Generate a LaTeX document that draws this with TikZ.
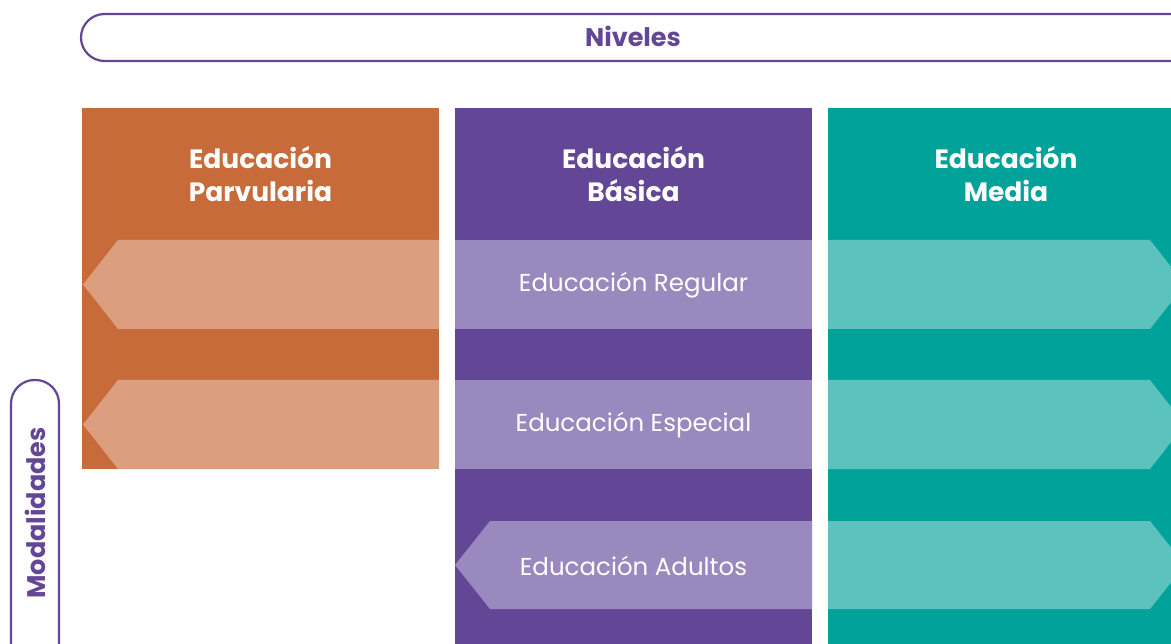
\documentclass[tikz,border=0pt]{standalone}
\usepackage{fontspec}
\setmainfont{Poppins}
\definecolor{vio}{HTML}{634796}
\definecolor{vioL}{HTML}{9A89BE}
\definecolor{ora}{HTML}{C76B3A}
\definecolor{oraL}{HTML}{DB9E7E}
\definecolor{tea}{HTML}{00A29A}
\definecolor{teaL}{HTML}{5BC2BE}
\tikzset{
  head/.style={text=white, font=\fontsize{26.5}{33}\selectfont\bfseries, align=center},
  lab/.style={text=white, font=\fontsize{24.5}{28}\selectfont},
  frame/.style={draw=vio, line width=2.2pt, rounded corners=23.5pt},
  ttl/.style={text=vio, font=\fontsize{25.5}{30}\selectfont\bfseries},
}
\begin{document}
\begin{tikzpicture}[x=1pt,y=-1pt]
\useasboundingbox (0,0) rectangle (1171,644);
\clip (0,0) rectangle (1171,644);
% banner
\draw[frame] (81,14) rectangle (1230,61);
\node[ttl] (niveles) at (633,36) {Niveles};
% modalidades
\draw[frame] (11,380) rectangle (59,720);
\node[ttl, rotate=90] (modal) at (35.5,513) {Modalidades};
% columns
\fill[ora] (82,108) rectangle (439,469);
\fill[vio] (455,108) rectangle (812,644);
\fill[tea] (828,108) rectangle (1180,644);
\node[head] (hp) at (260.5,174) {Educación\\Parvularia};
\node[head] (hb) at (633.5,174) {Educación\\Básica};
\node[head] (hm) at (1006,174) {Educación\\Media};
% orange arrows
\fill[oraL] (439,240) -- (118,240) -- (83,284.5) -- (118,329) -- (439,329) -- cycle;
\fill[oraL] (439,380) -- (118,380) -- (83,424.5) -- (118,469) -- (439,469) -- cycle;
% purple bands
\fill[vioL] (455,240) rectangle (812,329);
\node[lab] (reg) at (633.5,285) {Educación Regular};
\fill[vioL] (455,380) rectangle (812,469);
\node[lab] (esp) at (633.5,425) {Educación Especial};
\fill[vioL] (812,521) -- (490,521) -- (455,565) -- (490,609) -- (812,609) -- cycle;
\node[lab] (adu) at (633.5,566) {Educación Adultos};
% teal arrows
\fill[teaL] (828,240) -- (1150,240) -- (1185,284.5) -- (1150,329) -- (828,329) -- cycle;
\fill[teaL] (828,380) -- (1150,380) -- (1185,424.5) -- (1150,469) -- (828,469) -- cycle;
\fill[teaL] (828,521) -- (1150,521) -- (1185,565) -- (1150,609) -- (828,609) -- cycle;
\end{tikzpicture}
\end{document}
